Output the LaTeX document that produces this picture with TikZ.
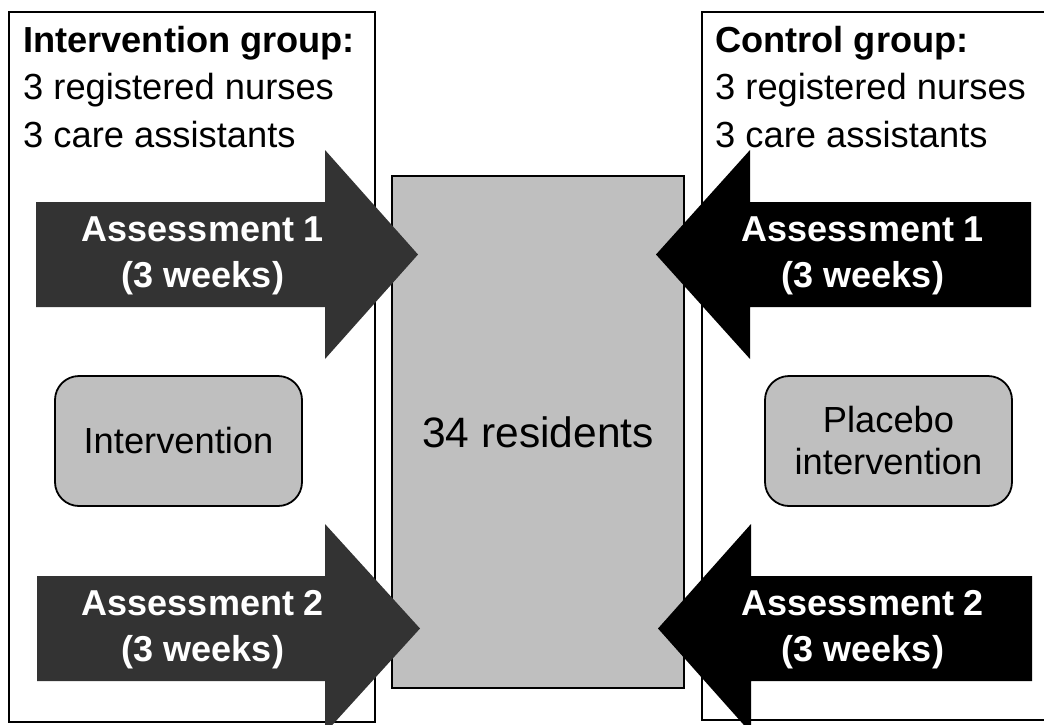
\documentclass[tikz,border=0pt]{standalone}
\usepackage{fontspec}
\setmainfont{Liberation Sans}

\begin{document}

\begin{tikzpicture}[x = 1pt, y = -1pt,
	group/.style = {draw, line width = 1.8pt, fill = white},
	lightarrow/.style = {fill = black!80},
	darkarrow/.style = {fill = black},
	arrowtext/.style = {text = white, align = center, font = \fontsize{36}{46}\selectfont\bfseries},
	task/.style = {draw, line width = 1.8pt, fill = black!25, rounded corners = 24pt, minimum width = 247pt, minimum height = 130pt, align = center, font = \fontsize{36.3}{42}\selectfont},
	member/.style = {anchor = base west, inner sep = 0pt, font = \fontsize{36.3}{42}\selectfont}]

	% Definition
	
	\def\S{52.5}
	\def\H{104.5}
	
	\clip (0, 0) rectangle (1044, 724);
	\fill [white] (0, 0) rectangle (1044, 724);
	
	% Groups
	
	\draw [group] (9, 12) rectangle (375, 722);
	\draw [group] (702, 12) rectangle (1060, 720);
	
	\node [member, font = \fontsize{36.2}{42}\selectfont\bfseries] (interTitle) at (23, 52) {Intervention group:};
	\node [member] (interNurses) at (23, 99.5) {3 registered nurses};
	\node [member] (interCare) at (23, 147) {3 care assistants};
	
	\node [member, font = \fontsize{36.2}{42}\selectfont\bfseries] (ctrlTitle) at (715, 52) {Control group:};
	\node [member] (ctrlNurses) at (715, 99.5) {3 registered nurses};
	\node [member] (ctrlCare) at (715, 147) {3 care assistants};
	
	% Residents
	
	\node [draw, line width = 1.8pt, fill = black!25, minimum width = 292pt, minimum height = 512pt, font = \fontsize{42.5}{50}\selectfont] (residents) at (538, 432) {34 residents};
	
	% Arrows
	
	\fill [lightarrow] (36, 254.5 - \S) -- (325, 254.5 - \S) -- (325, 254.5 - \H) -- (418, 254.5) -- (325, 254.5 + \H) -- (325, 254.5 + \S) -- (36, 254.5 + \S) -- cycle;
	\fill [lightarrow] (37, 628.5 - \S) -- (325, 628.5 - \S) -- (325, 628.5 - \H) -- (420, 628.5) -- (325, 628.5 + \H) -- (325, 628.5 + \S) -- (37, 628.5 + \S) -- cycle;
	\fill [darkarrow] (1031, 254.5 - \S) -- (750, 254.5 - \S) -- (750, 254.5 - \H) -- (656, 254.5) -- (750, 254.5 + \H) -- (750, 254.5 + \S) -- (1031, 254.5 + \S) -- cycle;
	\fill [darkarrow] (1032, 628.5 - \S) -- (751, 628.5 - \S) -- (751, 628.5 - \H) -- (658, 628.5) -- (751, 628.5 + \H) -- (751, 628.5 + \S) -- (1032, 628.5 + \S) -- cycle;
	
	\node [arrowtext] (interAssessA) at (203, 256) {Assessment 1\\(3 weeks)};
	\node [arrowtext] (interAssessB) at (203, 630) {Assessment 2\\(3 weeks)};
	\node [arrowtext] (ctrlAssessA) at (863, 256) {Assessment 1\\(3 weeks)};
	\node [arrowtext] (ctrlAssessB) at (863, 630) {Assessment 2\\(3 weeks)};
	
	% Interventions
	
	\node [task] (intervention) at (178.5, 441) {Intervention};
	\node [task] (placebo) at (888.5, 441) {Placebo\\intervention};

\end{tikzpicture}

\end{document}
